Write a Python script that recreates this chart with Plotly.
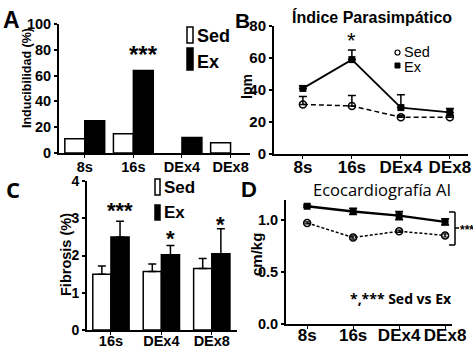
import plotly.graph_objects as go

W, H = 473, 348
FONT = "Liberation Sans"
FONT2 = "Open Sans"

# ---------------- data ----------------
# Panel A: Inducibilidad (%)
a_cats = ["8s", "16s", "DEx4", "DEx8"]
a_sed = [11, 15, None, 8]
a_ex = [25, 64, 12, None]

# Panel B: Índice Parasimpático (lpm)
b_cats = ["8s", "16s", "DEx4", "DEx8"]
b_sed = [31, 30, 23, 23]
b_sed_err = [5, 6.5, 1, 1]
b_ex = [41, 59, 29, 26]
b_ex_err = [1.5, 6, 8, 2.5]

# Panel C: Fibrosis (%)
c_cats = ["16s", "DEx4", "DEx8"]
c_sed = [1.5, 1.57, 1.65]
c_sed_err = [0.22, 0.2, 0.27]
c_ex = [2.5, 2.02, 2.05]
c_ex_err = [0.42, 0.25, 0.67]

# Panel D: Ecocardiografía AI (cm/kg)
d_cats = ["8s", "16s", "DEx4", "DEx8"]
d_sed = [0.97, 0.83, 0.89, 0.85]
d_sed_err = [0.01, 0.015, 0.01, 0.015]
d_ex = [1.13, 1.08, 1.04, 0.98]
d_ex_err = [0.01, 0.03, 0.04, 0.03]

a_ticks = [0, 20, 40, 60, 80, 100]
b_ticks = [0, 20, 40, 60, 80]
c_ticks = [0, 1, 2, 3, 4]
d_ticks = [0.0, 0.5, 1.0]


def px(x):
    return x / W


def py(y):
    return 1 - y / H


fig = go.Figure()

# ---- Panel A bars ----
wa = 0.41
fig.add_trace(go.Bar(x=list(range(len(a_cats))), y=a_sed, width=wa, offset=-wa,
                     marker=dict(color="white", line=dict(color="black", width=1.5)),
                     xaxis="x", yaxis="y", showlegend=False))
fig.add_trace(go.Bar(x=list(range(len(a_cats))), y=a_ex, width=wa, offset=0,
                     marker=dict(color="black", line=dict(color="black", width=1.5)),
                     xaxis="x", yaxis="y", showlegend=False))

# ---- Panel B lines ----
bx = list(range(len(b_cats)))
fig.add_trace(go.Scatter(x=bx, y=b_sed, mode="lines+markers",
                         line=dict(color="black", width=1.5, dash="5px,3px"),
                         marker=dict(symbol="circle-open", size=7, color="black", line=dict(width=1.5)),
                         error_y=dict(type="data", array=b_sed_err, arrayminus=[0] * 4, symmetric=False,
                                      color="black", thickness=1.5, width=4),
                         xaxis="x2", yaxis="y2", showlegend=False))
fig.add_trace(go.Scatter(x=bx, y=b_ex, mode="lines+markers",
                         line=dict(color="black", width=1.8),
                         marker=dict(symbol="square", size=7, color="black"),
                         error_y=dict(type="data", array=b_ex_err, arrayminus=[0] * 4, symmetric=False,
                                      color="black", thickness=1.5, width=4),
                         xaxis="x2", yaxis="y2", showlegend=False))

# ---- Panel C bars ----
wc = 0.36
cx = list(range(len(c_cats)))
fig.add_trace(go.Bar(x=cx, y=c_sed, width=wc, offset=-wc,
                     marker=dict(color="white", line=dict(color="black", width=1.5)),
                     error_y=dict(type="data", array=c_sed_err, arrayminus=[0] * 3, symmetric=False,
                                  color="black", thickness=1.5, width=4),
                     xaxis="x3", yaxis="y3", showlegend=False))
fig.add_trace(go.Bar(x=cx, y=c_ex, width=wc, offset=0,
                     marker=dict(color="black", line=dict(color="black", width=1.5)),
                     error_y=dict(type="data", array=c_ex_err, arrayminus=[0] * 3, symmetric=False,
                                  color="black", thickness=1.5, width=4),
                     xaxis="x3", yaxis="y3", showlegend=False))

# ---- Panel D lines ----
dx = list(range(len(d_cats)))
fig.add_trace(go.Scatter(x=dx, y=d_sed, mode="lines+markers",
                         line=dict(color="black", width=1.5, dash="3px,2px"),
                         marker=dict(symbol="circle-open", size=7, color="black", line=dict(width=1.5)),
                         error_y=dict(type="data", array=d_sed_err, color="black", thickness=1.2, width=3),
                         xaxis="x4", yaxis="y4", showlegend=False))
fig.add_trace(go.Scatter(x=dx, y=d_ex, mode="lines+markers",
                         line=dict(color="black", width=2.4),
                         marker=dict(symbol="square", size=7, color="black"),
                         error_y=dict(type="data", array=d_ex_err, color="black", thickness=1.5, width=4),
                         xaxis="x4", yaxis="y4", showlegend=False))


def tf(size):
    return dict(family=FONT, size=size, color="black", weight="bold")


def xax(domain, rng, cats, anchor, fs, standoff):
    return dict(domain=domain, range=rng, anchor=anchor, tickvals=list(range(len(cats))), ticktext=cats,
                showline=True, linecolor="black", linewidth=2, ticks="outside", ticklen=3, tickwidth=1,
                tickcolor="black", showgrid=False, zeroline=False, tickfont=tf(fs), fixedrange=True,
                tickangle=0, automargin=False, ticklabelstandoff=standoff)


def yax(domain, rng, tv, anchor, fs, fmt=None):
    d = dict(domain=domain, range=rng, anchor=anchor, tickvals=tv, showline=True, linecolor="black",
             linewidth=2, ticks="outside", ticklen=3, tickwidth=1.5, tickcolor="black",
             showgrid=False, zeroline=False, tickfont=tf(fs), fixedrange=True, automargin=False)
    if fmt:
        d["tickformat"] = fmt
    return d


fig.update_layout(
    width=W, height=H, margin=dict(l=0, r=0, t=0, b=0, autoexpand=False),
    paper_bgcolor="white", plot_bgcolor="rgba(0,0,0,0)",
    xaxis=xax([px(59), px(250)], [-0.53, 3.4], a_cats, "y", 14.5, -3),
    yaxis=yax([py(153), py(24)], [0, 100], a_ticks, "x", 14.5),
    xaxis2=xax([px(274), px(468)], [-0.59, 3.37], b_cats, "y2", 17, -6),
    yaxis2=yax([py(154), py(26)], [0, 80], b_ticks, "x2", 15),
    xaxis3=xax([px(87), px(237)], [-0.475, 2.5], c_cats, "y3", 14.5, -6),
    yaxis3=yax([py(330), py(181)], [0, 4], c_ticks, "x3", 14),
    xaxis4=xax([px(286), px(452)], [-0.46, 3.15], d_cats, "y4", 17, -8),
    yaxis4=yax([py(324), py(200)], [0, 1.19], d_ticks, "x4", 14.5, fmt=".1f"),
)

shapes = []
ann = []


def text(x, y, s, size, bold=True, angle=0, xanchor="center", xref="paper", yref="paper", family=FONT):
    ann.append(dict(x=x, y=y, xref=xref, yref=yref, text=s, showarrow=False, textangle=angle,
                    xanchor=xanchor, yanchor="middle",
                    font=dict(family=family, size=size, color="black", weight="bold" if bold else "normal")))


# panel letters
text(px(11), py(20), "A", 23)
text(px(242), py(20), "B", 21)
text(px(13), py(189), "C", 22, family=FONT2)
text(px(249), py(189), "D", 22)

# axis titles
text(px(27), py(78), "Inducibilidad (%)", 12.5, angle=-90)
text(px(247), py(87), "lpm", 14, angle=-90)
text(px(66), py(255), "Fibrosis (%)", 14.5, angle=-90)
text(px(256), py(255), "cm/kg", 15, angle=-90)

# titles
text(px(372), py(17), "Índice Parasimpático", 16)
text(px(382), py(189), "Ecocardiografía AI", 16.5, bold=False, family=FONT2)

# significance stars
text(1 + wa / 2, 76, "***", 24, xref="x", yref="y")
text(1, 71, "*", 22, bold=False, xref="x2", yref="y2")
text(0 + wc / 2, 3.2, "***", 22, xref="x3", yref="y3")
text(1 + wc / 2, 2.45, "*", 22, xref="x3", yref="y3")
text(2 + wc / 2, 2.84, "*", 22, xref="x3", yref="y3")
text(px(401), py(298), "*,*** Sed vs Ex", 14, family=FONT2)
text(px(458), py(230), "***", 12, xanchor="left")

# bracket in D
for seg in [((449, 212), (455, 212)), ((455, 212), (455, 245)), ((449, 245), (455, 245)), ((455, 228), (459, 228))]:
    (x0, y0), (x1, y1) = seg
    shapes.append(dict(type="line", xref="paper", yref="paper", x0=px(x0), y0=py(y0), x1=px(x1), y1=py(y1),
                       line=dict(color="black", width=1.5)))

# legend A
shapes.append(dict(type="rect", xref="paper", yref="paper", x0=px(187), x1=px(193), y0=py(43), y1=py(27),
                   line=dict(color="black", width=1.5), fillcolor="white"))
shapes.append(dict(type="rect", xref="paper", yref="paper", x0=px(187), x1=px(193), y0=py(70), y1=py(48),
                   line=dict(color="black", width=1.5), fillcolor="black"))
text(px(195), py(36), "Sed", 18, xanchor="left")
text(px(195), py(62), "Ex", 18, xanchor="left")

# legend C
shapes.append(dict(type="rect", xref="paper", yref="paper", x0=px(155), x1=px(160), y0=py(195), y1=py(179),
                   line=dict(color="black", width=1.5), fillcolor="white"))
shapes.append(dict(type="rect", xref="paper", yref="paper", x0=px(155), x1=px(160), y0=py(220), y1=py(205),
                   line=dict(color="black", width=1.5), fillcolor="black"))
text(px(162), py(187), "Sed", 17, xanchor="left")
text(px(162), py(212), "Ex", 17, xanchor="left")

# legend B
shapes.append(dict(type="circle", xref="paper", yref="paper", x0=px(395), x1=px(400), y0=py(50), y1=py(55),
                   line=dict(color="black", width=1.2), fillcolor="white"))
shapes.append(dict(type="rect", xref="paper", yref="paper", x0=px(395), x1=px(400), y0=py(63), y1=py(68),
                   line=dict(color="black", width=1), fillcolor="black"))
text(px(402), py(52), "Sed", 14.5, bold=False, xanchor="left")
text(px(402), py(67), "Ex", 14.5, bold=False, xanchor="left")

fig.update_layout(shapes=shapes, annotations=ann)
fig.write_html("out.html", config={"displayModeBar": False},
               post_script="document.body.style.margin='0';document.body.style.overflow='hidden';")
